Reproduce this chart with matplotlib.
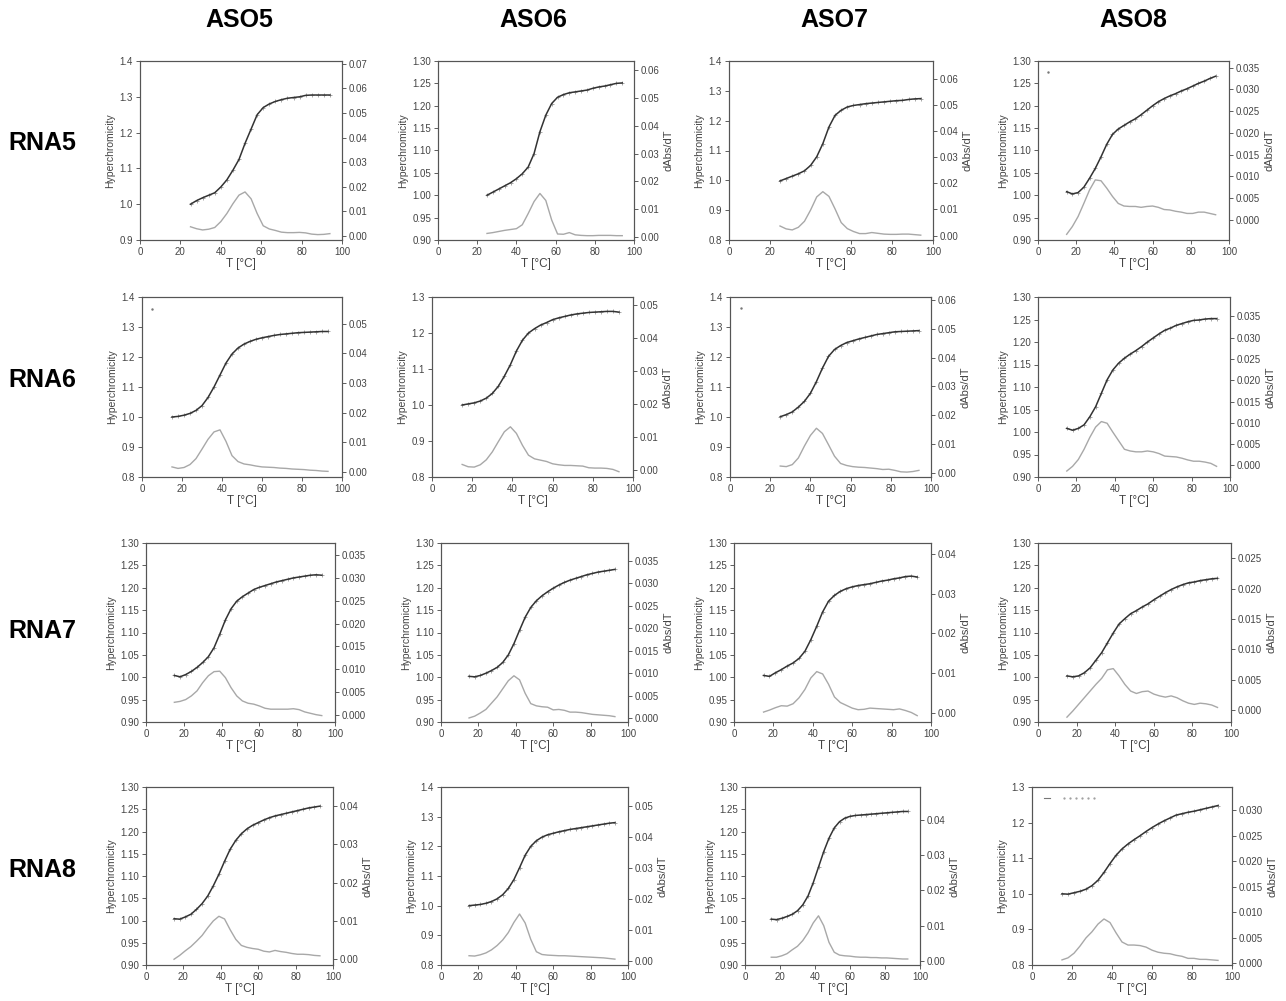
import matplotlib
matplotlib.use("Agg")
import matplotlib.pyplot as plt
from matplotlib.ticker import MultipleLocator

plt.rcParams['font.family'] = ['Liberation Sans', 'DejaVu Sans']

# temperature grids (deg C)
T25 = [25, 28, 31, 34, 37, 40, 43, 46, 49, 52, 55, 58, 61, 64, 67, 70, 73, 76, 79, 82, 85, 88, 91, 94]
T15 = [15, 18, 21, 24, 27, 30, 33, 36, 39, 42, 45, 48, 51, 54, 57, 60, 63, 66, 69, 72, 75, 78, 81, 84, 87, 90, 93]

aso_names = ['ASO5', 'ASO6', 'ASO7', 'ASO8']
rna_names = ['RNA5', 'RNA6', 'RNA7', 'RNA8']

# hyperchromicity (H) and first derivative (D)
H_R5_A5 = [1.000, 1.010, 1.018, 1.025, 1.032, 1.048, 1.068, 1.095, 1.125, 1.170, 1.210, 1.250, 1.270, 1.280, 1.287, 1.292, 1.296, 1.298, 1.300, 1.304, 1.305, 1.305, 1.305, 1.305]
D_R5_A5 = [0.0036, 0.0028, 0.0023, 0.0026, 0.0033, 0.0057, 0.0090, 0.0130, 0.0165, 0.0178, 0.0150, 0.0090, 0.0040, 0.0027, 0.0021, 0.0014, 0.0012, 0.0012, 0.0013, 0.0011, 0.0006, 0.0004, 0.0005, 0.0008]
H_R5_A6 = [1.000, 1.007, 1.014, 1.021, 1.028, 1.037, 1.048, 1.063, 1.093, 1.142, 1.179, 1.205, 1.219, 1.225, 1.229, 1.231, 1.233, 1.235, 1.239, 1.242, 1.244, 1.247, 1.250, 1.251]
D_R5_A6 = [0.0014, 0.0017, 0.0021, 0.0025, 0.0028, 0.0031, 0.0045, 0.0085, 0.0128, 0.0157, 0.0132, 0.0062, 0.0012, 0.0011, 0.0017, 0.0009, 0.0007, 0.0006, 0.0006, 0.0007, 0.0007, 0.0007, 0.0006, 0.0006]
H_R5_A7 = [0.998, 1.006, 1.014, 1.022, 1.032, 1.050, 1.079, 1.123, 1.179, 1.218, 1.235, 1.246, 1.251, 1.254, 1.257, 1.259, 1.261, 1.263, 1.265, 1.267, 1.268, 1.271, 1.273, 1.274]
D_R5_A7 = [0.0037, 0.0026, 0.0022, 0.0032, 0.0055, 0.0098, 0.0148, 0.0168, 0.0150, 0.0102, 0.0050, 0.0027, 0.0016, 0.0008, 0.0008, 0.0012, 0.0009, 0.0006, 0.0005, 0.0005, 0.0006, 0.0006, 0.0004, 0.0002]
H_R5_A8 = [1.008, 1.003, 1.006, 1.018, 1.038, 1.060, 1.086, 1.114, 1.136, 1.148, 1.156, 1.164, 1.171, 1.180, 1.190, 1.200, 1.209, 1.216, 1.222, 1.227, 1.233, 1.238, 1.244, 1.250, 1.255, 1.261, 1.266]
D_R5_A8 = [-0.0033, -0.0015, 0.0008, 0.0038, 0.0069, 0.0092, 0.0090, 0.0073, 0.0054, 0.0038, 0.0032, 0.0031, 0.0031, 0.0029, 0.0031, 0.0032, 0.0029, 0.0024, 0.0023, 0.0020, 0.0018, 0.0015, 0.0015, 0.0018, 0.0018, 0.0015, 0.0012]

H_R6_A5 = [1.000, 1.002, 1.006, 1.012, 1.022, 1.038, 1.065, 1.100, 1.140, 1.180, 1.210, 1.230, 1.243, 1.252, 1.259, 1.264, 1.268, 1.272, 1.275, 1.277, 1.279, 1.281, 1.282, 1.283, 1.284, 1.285, 1.285]
D_R6_A5 = [0.0017, 0.0012, 0.0015, 0.0025, 0.0045, 0.0077, 0.0110, 0.0135, 0.0142, 0.0103, 0.0055, 0.0035, 0.0027, 0.0024, 0.0020, 0.0017, 0.0016, 0.0015, 0.0013, 0.0012, 0.0010, 0.0009, 0.0008, 0.0006, 0.0005, 0.0003, 0.0002]
H_R6_A6 = [1.000, 1.003, 1.006, 1.011, 1.019, 1.032, 1.052, 1.080, 1.112, 1.150, 1.180, 1.200, 1.212, 1.222, 1.229, 1.237, 1.242, 1.246, 1.250, 1.253, 1.255, 1.257, 1.258, 1.259, 1.260, 1.260, 1.258]
D_R6_A6 = [0.0016, 0.0009, 0.0008, 0.0015, 0.0030, 0.0054, 0.0085, 0.0115, 0.0130, 0.0110, 0.0074, 0.0044, 0.0033, 0.0029, 0.0025, 0.0018, 0.0015, 0.0013, 0.0013, 0.0012, 0.0011, 0.0006, 0.0005, 0.0005, 0.0004, 0.0001, -0.0006]
H_R6_A7 = [1.001, 1.008, 1.017, 1.033, 1.052, 1.079, 1.118, 1.163, 1.202, 1.225, 1.238, 1.248, 1.254, 1.260, 1.265, 1.270, 1.275, 1.278, 1.281, 1.284, 1.285, 1.286, 1.287, 1.288]
D_R6_A7 = [0.0024, 0.0022, 0.0029, 0.0052, 0.0093, 0.0130, 0.0155, 0.0137, 0.0098, 0.0058, 0.0033, 0.0026, 0.0022, 0.0020, 0.0019, 0.0017, 0.0015, 0.0012, 0.0013, 0.0009, 0.0004, 0.0003, 0.0005, 0.0009]
H_R6_A8 = [1.008, 1.004, 1.008, 1.016, 1.034, 1.056, 1.086, 1.116, 1.138, 1.153, 1.164, 1.173, 1.181, 1.190, 1.200, 1.209, 1.218, 1.226, 1.231, 1.237, 1.241, 1.245, 1.248, 1.249, 1.251, 1.252, 1.252]
D_R6_A8 = [-0.0013, -0.0002, 0.0014, 0.0038, 0.0066, 0.0090, 0.0103, 0.0099, 0.0078, 0.0058, 0.0038, 0.0034, 0.0032, 0.0032, 0.0034, 0.0032, 0.0028, 0.0022, 0.0021, 0.0020, 0.0017, 0.0013, 0.0010, 0.0010, 0.0008, 0.0005, -0.0002]

H_R7_A5 = [1.004, 1.001, 1.006, 1.013, 1.022, 1.033, 1.046, 1.066, 1.096, 1.128, 1.153, 1.170, 1.180, 1.188, 1.196, 1.201, 1.205, 1.209, 1.213, 1.216, 1.219, 1.222, 1.224, 1.226, 1.228, 1.229, 1.228]
D_R7_A5 = [0.0028, 0.0030, 0.0034, 0.0042, 0.0053, 0.0071, 0.0086, 0.0095, 0.0096, 0.0082, 0.0060, 0.0042, 0.0031, 0.0026, 0.0024, 0.0020, 0.0015, 0.0013, 0.0013, 0.0013, 0.0013, 0.0014, 0.0012, 0.0007, 0.0004, 0.0001, -0.0001]
H_R7_A6 = [1.002, 1.001, 1.004, 1.009, 1.015, 1.022, 1.033, 1.050, 1.075, 1.105, 1.134, 1.156, 1.171, 1.182, 1.191, 1.199, 1.206, 1.212, 1.217, 1.221, 1.225, 1.229, 1.232, 1.235, 1.237, 1.239, 1.241]
D_R7_A6 = [0.0000, 0.0004, 0.0011, 0.0019, 0.0033, 0.0047, 0.0065, 0.0083, 0.0094, 0.0085, 0.0055, 0.0032, 0.0027, 0.0025, 0.0024, 0.0018, 0.0019, 0.0017, 0.0013, 0.0013, 0.0012, 0.0010, 0.0008, 0.0007, 0.0006, 0.0005, 0.0003]
H_R7_A7 = [1.004, 1.002, 1.010, 1.017, 1.025, 1.032, 1.042, 1.058, 1.084, 1.114, 1.146, 1.170, 1.183, 1.192, 1.198, 1.202, 1.205, 1.207, 1.209, 1.212, 1.215, 1.217, 1.220, 1.222, 1.225, 1.226, 1.224]
D_R7_A7 = [0.0002, 0.0007, 0.0013, 0.0018, 0.0017, 0.0023, 0.0038, 0.0059, 0.0088, 0.0104, 0.0098, 0.0072, 0.0040, 0.0026, 0.0019, 0.0012, 0.0008, 0.0009, 0.0012, 0.0011, 0.0010, 0.0009, 0.0008, 0.0010, 0.0006, 0.0001, -0.0007]
H_R7_A8 = [1.003, 1.001, 1.003, 1.010, 1.021, 1.038, 1.055, 1.077, 1.099, 1.119, 1.131, 1.142, 1.149, 1.157, 1.164, 1.173, 1.181, 1.189, 1.196, 1.202, 1.207, 1.211, 1.213, 1.216, 1.218, 1.220, 1.221]
D_R7_A8 = [-0.0012, -0.0002, 0.0009, 0.0020, 0.0031, 0.0042, 0.0052, 0.0066, 0.0068, 0.0056, 0.0042, 0.0031, 0.0027, 0.0030, 0.0031, 0.0026, 0.0023, 0.0021, 0.0023, 0.0020, 0.0015, 0.0011, 0.0009, 0.0011, 0.0010, 0.0008, 0.0004]

H_R8_A5 = [1.004, 1.003, 1.008, 1.014, 1.025, 1.038, 1.055, 1.078, 1.104, 1.133, 1.160, 1.180, 1.195, 1.206, 1.214, 1.220, 1.226, 1.231, 1.235, 1.238, 1.241, 1.244, 1.247, 1.250, 1.253, 1.255, 1.257]
D_R8_A5 = [0.0000, 0.0010, 0.0022, 0.0033, 0.0047, 0.0062, 0.0082, 0.0100, 0.0112, 0.0105, 0.0077, 0.0052, 0.0036, 0.0031, 0.0028, 0.0026, 0.0021, 0.0019, 0.0023, 0.0020, 0.0018, 0.0015, 0.0013, 0.0013, 0.0012, 0.0010, 0.0009]
H_R8_A6 = [1.000, 1.002, 1.004, 1.008, 1.014, 1.023, 1.037, 1.058, 1.088, 1.128, 1.170, 1.200, 1.219, 1.231, 1.239, 1.244, 1.249, 1.253, 1.257, 1.260, 1.263, 1.266, 1.269, 1.272, 1.275, 1.278, 1.280]
D_R8_A6 = [0.0017, 0.0016, 0.0020, 0.0026, 0.0036, 0.0050, 0.0068, 0.0092, 0.0125, 0.0152, 0.0123, 0.0070, 0.0030, 0.0021, 0.0019, 0.0018, 0.0017, 0.0017, 0.0016, 0.0015, 0.0014, 0.0013, 0.0012, 0.0011, 0.0010, 0.0008, 0.0006]
H_R8_A7 = [1.003, 1.002, 1.005, 1.009, 1.014, 1.022, 1.035, 1.055, 1.085, 1.120, 1.155, 1.185, 1.208, 1.222, 1.230, 1.234, 1.236, 1.237, 1.238, 1.239, 1.240, 1.241, 1.242, 1.243, 1.244, 1.245, 1.245]
D_R8_A7 = [0.0011, 0.0011, 0.0015, 0.0021, 0.0032, 0.0042, 0.0058, 0.0080, 0.0108, 0.0128, 0.0100, 0.0053, 0.0025, 0.0017, 0.0015, 0.0014, 0.0012, 0.0011, 0.0011, 0.0010, 0.0010, 0.0009, 0.0009, 0.0008, 0.0007, 0.0006, 0.0006]
H_R8_A8 = [1.000, 0.999, 1.003, 1.007, 1.013, 1.023, 1.038, 1.060, 1.085, 1.108, 1.126, 1.140, 1.152, 1.163, 1.175, 1.186, 1.196, 1.205, 1.213, 1.221, 1.225, 1.229, 1.232, 1.236, 1.240, 1.244, 1.248]
D_R8_A8 = [0.0007, 0.0011, 0.0020, 0.0034, 0.0050, 0.0062, 0.0077, 0.0087, 0.0080, 0.0060, 0.0042, 0.0036, 0.0036, 0.0035, 0.0032, 0.0026, 0.0022, 0.0020, 0.0019, 0.0016, 0.0014, 0.0010, 0.0010, 0.0008, 0.0008, 0.0007, 0.0006]

# stray marks left over in the original panels
stray_R5_A8 = ([5], [1.276])
stray_R6_A5 = ([5], [1.360])
stray_R6_A7 = ([5.5], [1.362])
legend_dash_x = [6, 9]
legend_dash_y = [1.27, 1.27]
legend_dot_x = [16, 19, 22, 25, 28, 31]
legend_dot_y = [1.27, 1.27, 1.27, 1.27, 1.27, 1.27]

panels = [
    [(T25, H_R5_A5, D_R5_A5), (T25, H_R5_A6, D_R5_A6), (T25, H_R5_A7, D_R5_A7), (T15, H_R5_A8, D_R5_A8)],
    [(T15, H_R6_A5, D_R6_A5), (T15, H_R6_A6, D_R6_A6), (T25, H_R6_A7, D_R6_A7), (T15, H_R6_A8, D_R6_A8)],
    [(T15, H_R7_A5, D_R7_A5), (T15, H_R7_A6, D_R7_A6), (T15, H_R7_A7, D_R7_A7), (T15, H_R7_A8, D_R7_A8)],
    [(T15, H_R8_A5, D_R8_A5), (T15, H_R8_A6, D_R8_A6), (T15, H_R8_A7, D_R8_A7), (T15, H_R8_A8, D_R8_A8)],
]

# axis settings: left lo, hi, step, right lo, hi, step, show dAbs/dT label
axis_cfg = [
    [(0.9, 1.4, 0.1, -0.0018, 0.0712, 0.01, False), (0.9, 1.3, 0.05, -0.00095, 0.0631, 0.01, True),
     (0.8, 1.4, 0.1, -0.00165, 0.0667, 0.01, True), (0.9, 1.3, 0.05, -0.0046, 0.0365, 0.005, True)],
    [(0.8, 1.4, 0.1, -0.0017, 0.059, 0.01, False), (0.8, 1.3, 0.1, -0.0022, 0.0523, 0.01, True),
     (0.8, 1.4, 0.1, -0.0014, 0.061, 0.01, True), (0.9, 1.3, 0.05, -0.0027, 0.0395, 0.005, True)],
    [(0.9, 1.3, 0.05, -0.0015, 0.0376, 0.005, False), (0.9, 1.3, 0.05, -0.0009, 0.039, 0.005, True),
     (0.9, 1.3, 0.05, -0.0023, 0.0428, 0.01, True), (0.9, 1.3, 0.05, -0.002, 0.0275, 0.005, True)],
    [(0.9, 1.3, 0.05, -0.0015, 0.0449, 0.01, True), (0.8, 1.4, 0.1, -0.0013, 0.0563, 0.01, True),
     (0.9, 1.3, 0.05, -0.0011, 0.0492, 0.01, True), (0.8, 1.3, 0.1, -0.0003, 0.0345, 0.005, True)],
]

# pixel boxes (left, right) per row/col and (top, bottom) per row
W, H = 1286, 1001
col_lr = [
    [(140, 342), (438, 634), (729, 933), (1038, 1229)],
    [(142, 342), (432, 633), (730, 931), (1038, 1230)],
    [(146, 335), (441, 628), (734, 931), (1038, 1231)],
    [(146, 333), (441, 628), (745, 920), (1032, 1232)],
]
row_tb = [(61, 240), (297, 477), (543, 722), (787, 965)]
col_centers = [239, 533, 834, 1133]
row_centers = [143, 380, 631, 870]

fig = plt.figure(figsize=(W / 100, H / 100), dpi=100)
grey = '#444444'

for r in range(4):
    for c in range(4):
        T, hyp, der = panels[r][c]
        lo, hi, step, rlo, rhi, rstep, dlab = axis_cfg[r][c]
        l, rr = col_lr[r][c]
        t, b = row_tb[r]
        ax = fig.add_axes([l / W, 1 - b / H, (rr - l) / W, (b - t) / H])
        ax2 = ax.twinx()
        ax.plot(T, hyp, linestyle='none', marker='+', ms=3, mew=0.6, color='#999999', zorder=2)
        ax.plot(T, hyp, color='#333333', lw=1.1, zorder=3)
        ax2.plot(T, der, color='#a8a8a8', lw=1.0)
        ax.set_xlim(0, 100)
        ax.set_ylim(lo, hi)
        ax.yaxis.set_major_locator(MultipleLocator(step))
        ax.xaxis.set_major_locator(MultipleLocator(20))
        ax2.set_ylim(rlo, rhi)
        ax2.yaxis.set_major_locator(MultipleLocator(rstep))
        for a in (ax, ax2):
            a.tick_params(labelsize=7, colors=grey, length=3, width=0.6, pad=2)
            for s in a.spines.values():
                s.set_color('#555555')
                s.set_linewidth(0.8)
        ax.set_ylabel('Hyperchromicity', fontsize=7.5, color=grey, labelpad=3)
        ax.set_xlabel('T [°C]', fontsize=8.5, color=grey, labelpad=1)
        if dlab:
            ax2.set_ylabel('dAbs/dT', fontsize=8, color=grey, labelpad=3)

        if (r, c) == (0, 3):
            ax.plot(*stray_R5_A8, linestyle='none', marker='.', ms=1.5, color='#777777')
        if (r, c) == (1, 0):
            ax.plot(*stray_R6_A5, linestyle='none', marker='.', ms=1.5, color='#777777')
        if (r, c) == (1, 2):
            ax.plot(*stray_R6_A7, linestyle='none', marker='.', ms=1.5, color='#777777')
        if (r, c) == (3, 3):
            ax.plot(legend_dash_x, legend_dash_y, color='#777777', lw=0.8)
            ax.plot(legend_dot_x, legend_dot_y, linestyle='none', marker='.', ms=1.2, color='#999999')

for c, name in enumerate(aso_names):
    fig.text(col_centers[c] / W, 1 - 20 / H, name, fontsize=18, fontweight='bold',
             ha='center', va='center')
for r, name in enumerate(rna_names):
    fig.text(42 / W, 1 - row_centers[r] / H, name, fontsize=18, fontweight='bold',
             ha='center', va='center')

fig.savefig('out.png', dpi=100)
